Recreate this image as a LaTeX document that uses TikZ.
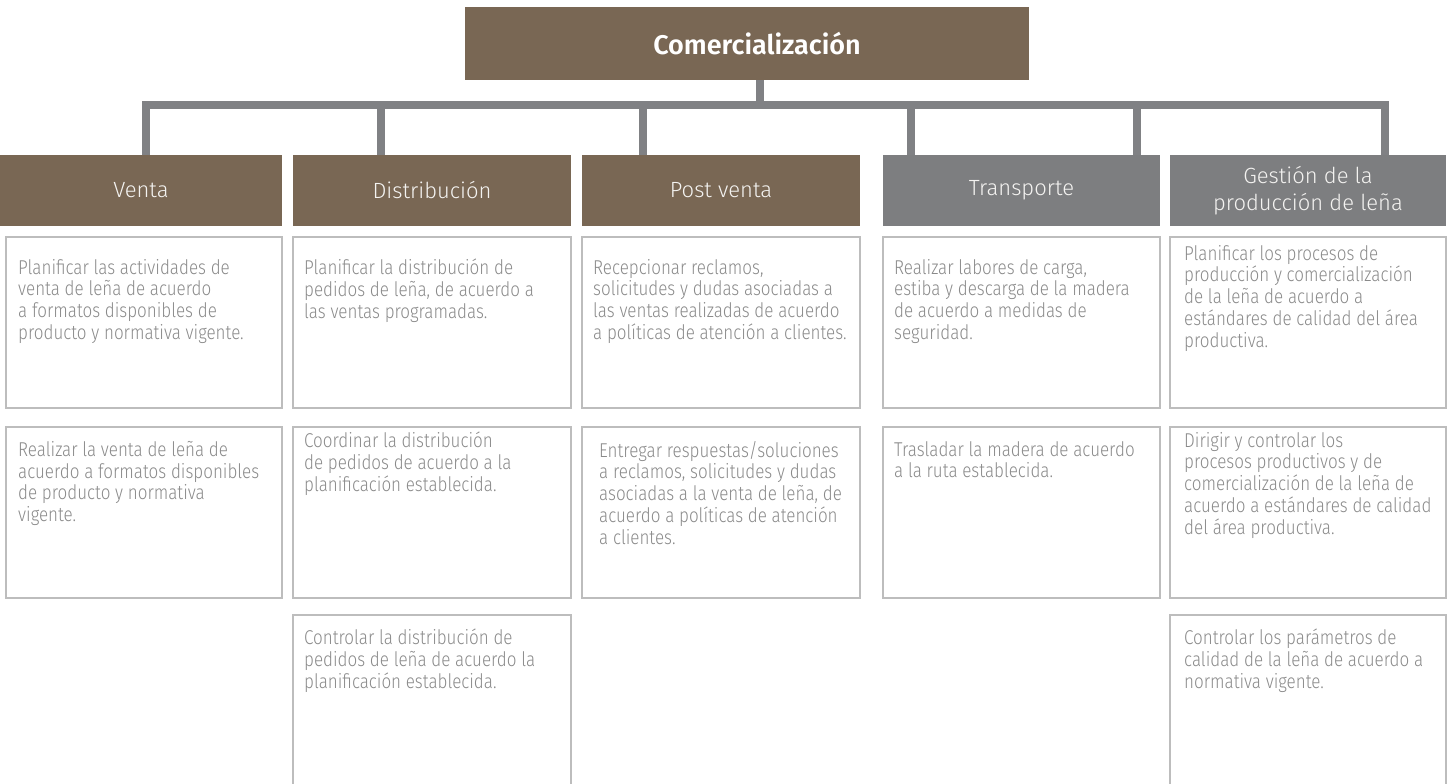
\documentclass[tikz,border=0pt]{standalone}
\usepackage{fontspec}
\setmainfont{Fira Sans}[UprightFont={* Light}, BoldFont={* SemiBold}]
\newfontfamily\estrecha{Fira Sans}[UprightFont={* Light}, FakeStretch=0.85]
\usetikzlibrary{calc}

\definecolor{cafe}{HTML}{796754}
\definecolor{grisarea}{HTML}{7D7E80}
\definecolor{linea}{HTML}{808184}
\definecolor{borde}{HTML}{BDBDBD}
\definecolor{texto}{HTML}{8A8A8A}

\tikzset{
  cab/.style={fill=cafe, text=white, font=\bfseries\fontsize{27}{32}\selectfont, inner sep=0, outer sep=0},
  area/.style={fill=#1, text=white!92!cafe, font=\fontsize{22}{27}\selectfont, align=center,
    inner sep=0, outer sep=0, anchor=north west, minimum height=71},
  caja/.style={draw=borde, line width=2.5, inner sep=0, outer sep=0, anchor=north west},
  tarea/.style={text=texto, font=\estrecha\fontsize{20}{21.7}\selectfont, align=left, inner sep=0,
    anchor=north west, execute at begin node=\rule{0pt}{16pt}},
  conn/.style={draw=linea, line width=8}
}

\begin{document}
\begin{tikzpicture}[x=1pt, y=-1pt]
\useasboundingbox (0,0) rectangle (1449,784);
\clip (0,0) rectangle (1449,784);
% Comercializacion
\node[cab, minimum width=564, minimum height=73] (com) at (747,43.5) {\hspace*{20pt}Comercialización};
% Areas
\node[area=cafe, minimum width=282] (venta) at (0,155) {Venta};
\node[area=cafe, minimum width=278] (distrib) at (293,155) {Distribución};
\node[area=cafe, minimum width=278] (postv) at (582,155) {Post venta};
\node[area=grisarea, minimum width=277] (transp) at (883,155) {Transporte};
\node[area=grisarea, minimum width=276] (gestion) at (1170,155) {Gestión de la\\producción de leña};
% Conectores
\coordinate (hub) at (760,105);
\coordinate (j1) at (146,105);
\coordinate (j2) at (380.5,105);
\coordinate (j3) at (643,105);
\coordinate (j4) at (910.5,105);
\coordinate (j5) at (1136.5,105);
\coordinate (j6) at (1385,105);
\draw[conn] (hub |- com.south) -- (hub);
\draw[conn] (j1 |- venta.north) -- (j1) -- (j6) -- (j6 |- gestion.north);
\foreach \j/\n in {j2/distrib, j3/postv, j4/transp, j5/transp}
  \draw[conn] (\j) -- (\j |- \n.north);
% Venta
\node[caja, minimum width=276, minimum height=171] (v1) at (6,237) {};
\node[tarea] (v1t) at ([xshift=12,yshift=-22]v1.north west)
  {Planificar las actividades de\\venta de leña de acuerdo\\a formatos disponibles de\\producto y normativa vigente.};
\node[caja, minimum width=276, minimum height=171] (v2) at (6,427) {};
\node[tarea] (v2t) at ([xshift=12,yshift=-14]v2.north west)
  {Realizar la venta de leña de\\acuerdo a formatos disponibles\\de producto y normativa\\vigente.};
% Distribucion
\node[caja, minimum width=278, minimum height=171] (d1) at (293,237) {};
\node[tarea] (d1t) at ([xshift=11,yshift=-22]d1.north west)
  {Planificar la distribución de\\pedidos de leña, de acuerdo a\\las ventas programadas.};
\node[caja, minimum width=278, minimum height=171] (d2) at (293,427) {};
\node[tarea] (d2t) at ([xshift=11,yshift=-5]d2.north west)
  {Coordinar la distribución\\de pedidos de acuerdo a la\\planificación establecida.};
\node[caja, minimum width=278, minimum height=175] (d3) at (293,615) {};
\node[tarea] (d3t) at ([xshift=11,yshift=-14]d3.north west)
  {Controlar la distribución de\\pedidos de leña de acuerdo la\\planificación establecida.};
% Post venta
\node[caja, minimum width=278, minimum height=171] (p1) at (582,237) {};
\node[tarea] (p1t) at ([xshift=11,yshift=-22]p1.north west)
  {Recepcionar reclamos,\\solicitudes y dudas asociadas a\\las ventas realizadas de acuerdo\\a políticas de atención a clientes.};
\node[caja, minimum width=278, minimum height=171] (p2) at (582,427) {};
\node[tarea] (p2t) at ([xshift=17,yshift=-14]p2.north west)
  {Entregar respuestas/soluciones\\a reclamos, solicitudes y dudas\\asociadas a la venta de leña, de\\acuerdo a políticas de atención\\a clientes.};
% Transporte
\node[caja, minimum width=277, minimum height=171] (t1) at (883,237) {};
\node[tarea] (t1t) at ([xshift=11,yshift=-22]t1.north west)
  {Realizar labores de carga,\\estiba y descarga de la madera\\de acuerdo a medidas de\\seguridad.};
\node[caja, minimum width=277, minimum height=171] (t2) at (883,427) {};
\node[tarea] (t2t) at ([xshift=11,yshift=-14]t2.north west)
  {Trasladar la madera de acuerdo\\a la ruta establecida.};
% Gestion de la produccion de lena
\node[caja, minimum width=276, minimum height=171] (g1) at (1170,237) {};
\node[tarea] (g1t) at ([xshift=14,yshift=-8]g1.north west)
  {Planificar los procesos de\\producción y comercialización\\de la leña de acuerdo a\\estándares de calidad del área\\productiva.};
\node[caja, minimum width=276, minimum height=171] (g2) at (1170,427) {};
\node[tarea] (g2t) at ([xshift=14,yshift=-5]g2.north west)
  {Dirigir y controlar los\\procesos productivos y de\\comercialización de la leña de\\acuerdo a estándares de calidad\\del área productiva.};
\node[caja, minimum width=276, minimum height=175] (g3) at (1170,615) {};
\node[tarea] (g3t) at ([xshift=14,yshift=-14]g3.north west)
  {Controlar los parámetros de\\calidad de la leña de acuerdo a\\normativa vigente.};
\end{tikzpicture}
\end{document}
